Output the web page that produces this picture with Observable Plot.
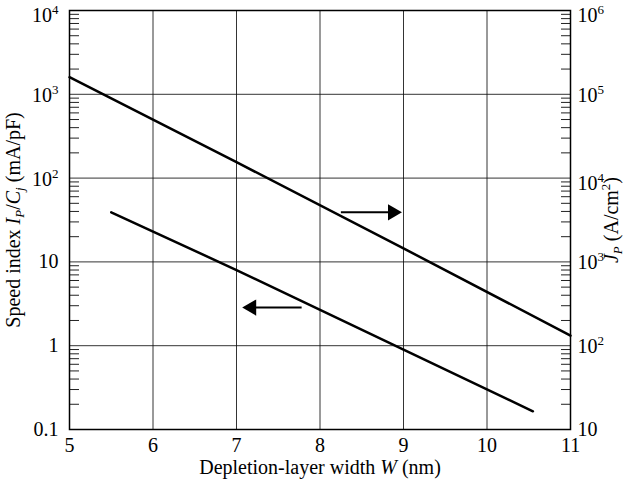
<!DOCTYPE html>
<html><head><meta charset="utf-8">
<script src="https://cdn.jsdelivr.net/npm/d3@7"></script>
<script src="https://cdn.jsdelivr.net/npm/@observablehq/plot@0.6"></script>
<style>body{margin:0;background:#fff}</style>
</head><body><div id="chart"></div>
<script>
// Axes
const xTicks = [5, 6, 7, 8, 9, 10, 11];
const leftTicks = [0.1, 1, 10, 100, 1000, 10000];
const leftTickLabels = ["0.1", "1", "10", "10^2", "10^3", "10^4"];
const rightTickLabels = ["10", "10^2", "10^3", "10^4", "10^5", "10^6"];
const rightPerLeft = 100; // J_P (A/cm2) = 100 x speed index
const minorMultipliers = [2, 3, 4, 5, 6, 7, 8, 9];

// Series: J_P (right axis, A/cm^2)
const jpW = [5, 7, 9, 11];
const jpValues = [160000, 15500, 1450, 132];
// Series: speed index (left axis, mA/pF)
const siW = [5.5, 7, 9, 10.55];
const siValues = [39, 8, 0.9, 0.165];

// Direction arrows
const arrowRight = {x1: 8.25, x2: 8.87, y: 39};
const arrowLeft = {x1: 7.78, x2: 7.18, y: 2.85};

const minorTicks = leftTicks.slice(0, -1).flatMap(t => minorMultipliers.map(m => +(t * m).toPrecision(3)));
const jpData = jpW.map((w, i) => ({w, v: jpValues[i] / rightPerLeft}));
const siData = siW.map((w, i) => ({w, v: siValues[i]}));
const arrows = [arrowRight, arrowLeft];

const chart = Plot.plot({
  width: 625, height: 482,
  marginLeft: 69, marginRight: 55, marginTop: 10, marginBottom: 53,
  style: {fontFamily: '"Liberation Serif", "Times New Roman", serif', fontSize: "20px", background: "#fff", color: "#000", overflow: "visible"},
  x: {domain: [5, 11], label: null},
  y: {type: "log", domain: [0.1, 10000], label: null},
  marks: [
    Plot.gridX(xTicks.slice(1, -1), {stroke: "#111", strokeOpacity: 0.85, strokeWidth: 1}),
    Plot.gridY(leftTicks.slice(1, -1), {stroke: "#111", strokeOpacity: 0.85, strokeWidth: 1}),
    Plot.axisY(minorTicks, {anchor: "left", tickSize: -10, tickFormat: () => "", label: null, stroke: "#222"}),
    Plot.axisY(minorTicks, {anchor: "right", tickSize: -10, tickFormat: () => "", label: null, stroke: "#222"}),
    Plot.axisX(xTicks, {tickSize: 0, tickPadding: 8, tickFormat: d => String(d), label: "XLABEL", labelAnchor: "center", labelOffset: 44}),
    Plot.axisY(leftTicks, {anchor: "left", tickSize: 0, tickPadding: 11, tickFormat: d => leftTickLabels[leftTicks.indexOf(d)], label: "YLABEL", labelAnchor: "center", labelOffset: 64}),
    Plot.axisY(leftTicks, {anchor: "right", tickSize: 0, tickPadding: 7, tickFormat: d => rightTickLabels[leftTicks.indexOf(d)], label: "RLABEL", labelAnchor: "center", labelOffset: 47}),
    Plot.frame({stroke: "#000", strokeWidth: 1.5}),
    Plot.line(jpData, {x: "w", y: "v", stroke: "#000", strokeWidth: 2.5}),
    Plot.line(siData, {x: "w", y: "v", stroke: "#000", strokeWidth: 2.5}),
    Plot.link(arrows, {x1: "x1", x2: "x2", y1: "y", y2: "y", stroke: "#000", strokeWidth: 2}),
    Plot.dot(arrows, {x: "x2", y: "y", symbol: "triangle", r: 6, fill: "#000", stroke: null,
      rotate: d => d.x2 > d.x1 ? 90 : -90})
  ]
});
document.getElementById("chart").appendChild(chart);

const topLabels = [leftTickLabels.at(-1), rightTickLabels.at(-1)];
const sup = s => {
  const m = s.match(/^(.*)\^(\d)$/);
  const shift = topLabels.includes(s) ? 5 : 1;
  return `<tspan dy="${shift}">${m[1]}</tspan><tspan dy="-8" font-size="13px">${m[2]}</tspan>`;
};
const labels = {
  XLABEL: 'Depletion-layer width <tspan font-style="italic">W</tspan> (nm)',
  YLABEL: 'Speed index <tspan font-style="italic">I</tspan><tspan font-style="italic" font-size="13px" dy="4">P</tspan><tspan dy="-4">/</tspan><tspan font-style="italic">C</tspan><tspan font-style="italic" font-size="13px" dy="4">j</tspan><tspan dy="-4"> (mA/pF)</tspan>',
  RLABEL: '<tspan font-style="italic">J</tspan><tspan font-style="italic" font-size="13px" dy="4">P</tspan><tspan dy="-4"> (A/cm</tspan><tspan font-size="13px" dy="-8">2</tspan><tspan dy="8">)</tspan>'
};
d3.select(chart).selectAll("text").each(function() {
  const t = this.textContent;
  for (const k in labels) if (t.includes(k)) { this.innerHTML = labels[k]; return; }
  if (/\^\d$/.test(t)) this.innerHTML = sup(t);
});
</script></body></html>
